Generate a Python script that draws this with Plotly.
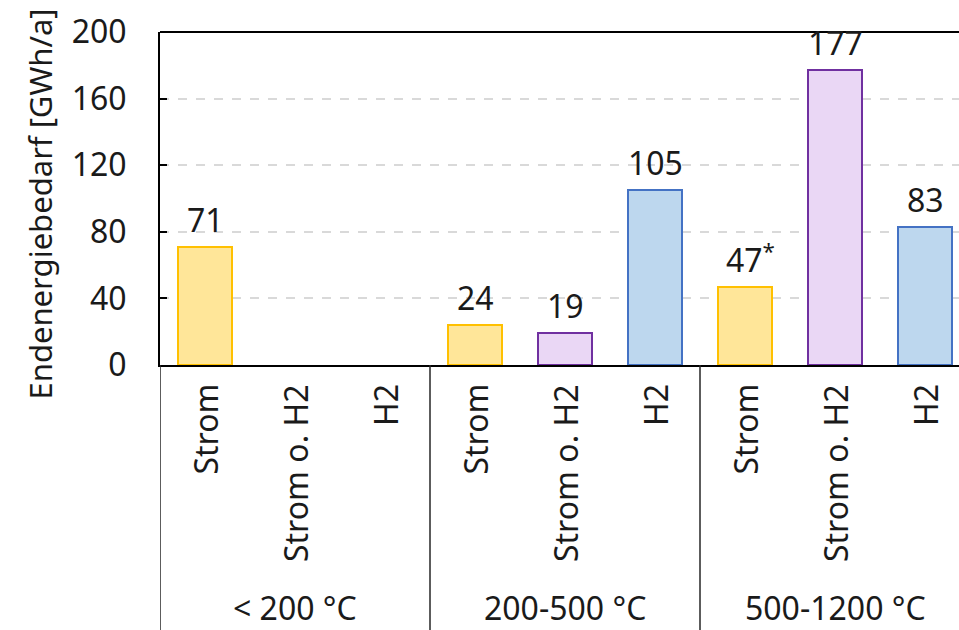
import plotly.graph_objects as go

# Temperature ranges and energy carriers
groups = ["< 200 °C", "200-500 °C", "500-1200 °C"]
carriers = ["Strom", "Strom o. H2", "H2"]

# Final energy demand in GWh/a, one list per temperature range (None = no demand)
demand_low = [71, None, None]
demand_mid = [24, 19, 105]
demand_high = [47, 177, 83]
footnote_high = ["*", "", ""]

y_ticks = [0, 40, 80, 120, 160, 200]
y_title = "Endenergiebedarf [GWh/a]"

fill_colors = ["#FFE699", "#EAD7F5", "#BDD7EE"]
line_colors = ["#FFC000", "#7030A0", "#4472C4"]

FONT = "Noto Sans"
FS = 32
TXT = "#1a1a1a"

all_values = [demand_low, demand_mid, demand_high]
all_notes = [["", "", ""], ["", "", ""], footnote_high]

fig = go.Figure()

# one trace per energy carrier, positioned in slots 0..8
for c, carrier in enumerate(carriers):
    xs, ys = [], []
    for g in range(len(groups)):
        v = all_values[g][c]
        if v is not None:
            xs.append(g * 3 + c)
            ys.append(v)
    fig.add_trace(go.Bar(
        x=xs, y=ys, name=carrier, width=0.61,
        marker=dict(color=fill_colors[c], line=dict(color=line_colors[c], width=2)),
        showlegend=False, hoverinfo="skip",
    ))

annotations = []
# value labels above bars
for g in range(len(groups)):
    for c in range(len(carriers)):
        v = all_values[g][c]
        if v is None:
            continue
        note = all_notes[g][c]
        text = f"{v}" + (f"<sup>{note}</sup>" if note else "")
        annotations.append(dict(
            x=g * 3 + c, y=v, xref="x", yref="y", text=text, showarrow=False,
            yanchor="bottom", yshift=4, xshift=5 if note else 0,
            font=dict(family=FONT, size=FS, color=TXT),
        ))

# rotated category labels below the axis
for g in range(len(groups)):
    for c, carrier in enumerate(carriers):
        annotations.append(dict(
            x=g * 3 + c, y=0, xref="x", yref="paper", text=carrier, showarrow=False,
            textangle=-90, yanchor="top", xanchor="center", yshift=-17,
            font=dict(family=FONT, size=FS, color=TXT),
        ))

# temperature range labels
for g, label in enumerate(groups):
    annotations.append(dict(
        x=g * 3 + 1, y=0, xref="x", yref="paper", text=label, showarrow=False,
        yanchor="middle", xanchor="center", yshift=-242,
        font=dict(family=FONT, size=FS, color=TXT),
    ))

# y axis title
annotations.append(dict(
    x=0, y=0.5, xref="paper", yref="paper", text=y_title, showarrow=False,
    textangle=-90, xanchor="center", yanchor="middle", xshift=-121, yshift=-6,
    font=dict(family=FONT, size=31, color=TXT),
))

plot_h = 630 - 32 - 265
shapes = []
# group separators extending below the axis
for xb in [-0.5, 2.5, 5.5]:
    shapes.append(dict(type="line", xref="x", yref="paper", x0=xb, x1=xb,
                       y0=0, y1=-265 / plot_h, line=dict(color="#262626", width=1.5)))
# top frame line
shapes.append(dict(type="line", xref="paper", yref="paper", x0=0, x1=1, y0=1, y1=1,
                   line=dict(color="#000000", width=2)))

fig.update_layout(
    width=959, height=630,
    margin=dict(l=160, r=0, t=32, b=265),
    plot_bgcolor="white", paper_bgcolor="white",
    bargap=0, barmode="overlay",
    annotations=annotations, shapes=shapes,
    xaxis=dict(range=[-0.5, -0.5 + 799 / 90], showticklabels=False, showgrid=False,
               zeroline=False, showline=True, linecolor="#000000", linewidth=2,
               ticks=""),
    yaxis=dict(range=[0, 200], tickvals=y_ticks, showgrid=True, gridcolor="#d9d9d9",
               griddash="dash", gridwidth=1.5, zeroline=False, showline=True,
               linecolor="#000000", linewidth=2, ticks="inside", ticklen=7,
               tickcolor="#000000", tickwidth=2, ticklabelstandoff=25,
               tickfont=dict(family=FONT, size=FS, color=TXT)),
)

fig.write_html("out.html")
